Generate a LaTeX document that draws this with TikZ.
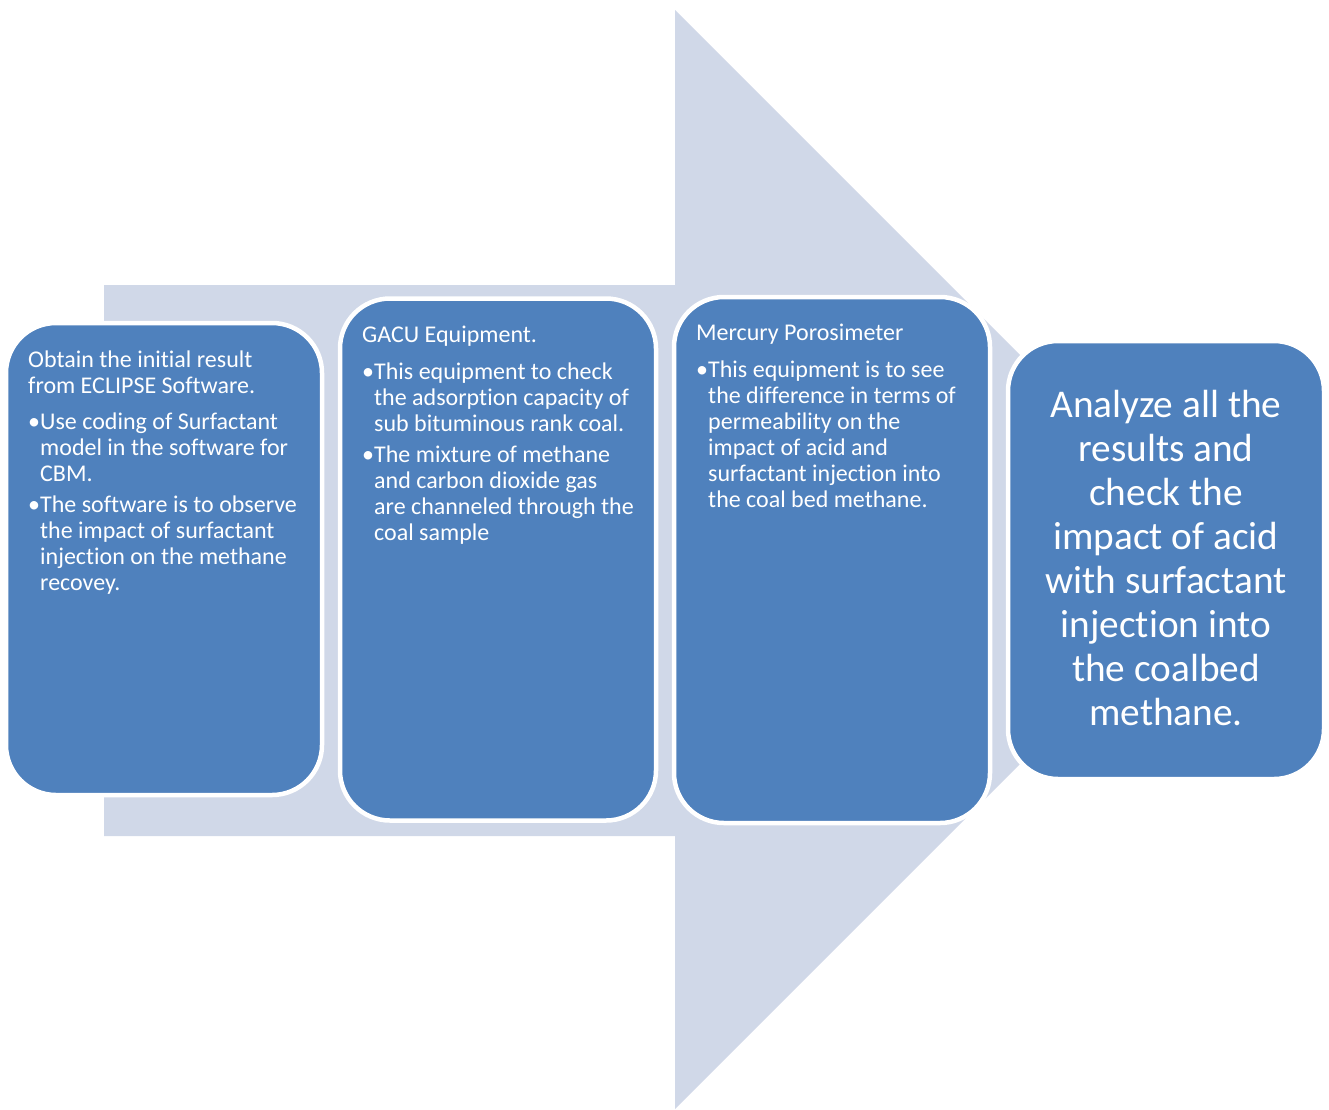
\documentclass[tikz,border=0pt]{standalone}
\usepackage{fontspec}
\setmainfont{Carlito}[Ligatures={NoCommon,NoRare,NoContextual}]
\definecolor{boxblue}{HTML}{4F81BD}
\definecolor{arrowtint}{HTML}{D0D8E8}
% bullet paragraph with hanging indent; lines inside are broken with \newline
\newcommand{\bulletpara}[1]{\hangindent=12pt\hangafter=1\noindent\makebox[12pt][l]{•}#1\par}
\tikzset{
  stage/.style={draw=white, line width=4.5pt, fill=boxblue, rounded corners=50pt,
                inner sep=0pt, minimum width=316pt},
  body/.style={text=white, inner sep=0pt, anchor=base west},
  summary/.style={text=white, inner sep=0pt, anchor=base},
}
\begin{document}
\begin{tikzpicture}[x=1pt,y=-1pt]
\useasboundingbox (0,0) rectangle (1329,1109);

% background block arrow
\fill[arrowtint] (104,285) -- (675,285) -- (675,10) -- (1224.5,559.5)
  -- (675,1109) -- (675,836) -- (104,836) -- cycle;

% stage boxes
\node[stage, minimum height=472pt] (b1) at (164,559) {};
\node[stage, minimum height=522pt] (b2) at (498,559.5) {};
\node[stage, minimum height=526pt] (b3) at (832,560) {};
\node[stage, minimum height=438pt] (b4) at (1166,560) {};

% stage texts
\node[body] (t1) at (28,367) {\parbox[t]{300pt}{\fontsize{24}{26}\selectfont\raggedright
  Obtain the initial result\newline from ECLIPSE Software.\par\vspace{10.5pt}
  \bulletpara{Use coding of Surfactant\newline model in the software for\newline CBM.}\vspace{5pt}
  \bulletpara{The software is to observe\newline the impact of surfactant\newline injection on the methane\newline recovey.}}};

\node[body] (t2) at (362,342) {\parbox[t]{300pt}{\fontsize{24}{26}\selectfont\raggedright
  GACU Equipment.\par\vspace{11pt}
  \bulletpara{This equipment to check\newline the adsorption capacity of\newline sub bituminous rank coal.}\vspace{5pt}
  \bulletpara{The mixture of methane\newline and carbon dioxide gas\newline are channeled through the\newline coal sample}}};

\node[body] (t3) at (696,340) {\parbox[t]{300pt}{\fontsize{24}{26}\selectfont\raggedright
  Mercury Porosimeter\par\vspace{11pt}
  \bulletpara{This equipment is to see\newline the difference in terms of\newline permeability on the\newline impact of acid and\newline surfactant injection into\newline the coal bed methane.}}};

\node[summary] (t4) at (1166,417) {\parbox[t]{316pt}{\fontsize{39.3}{44}\selectfont\centering
  Analyze all the\\ results and\\ check the\\ impact of acid\\ with surfactant\\ injection into\\ the coalbed\\ methane.}};
\end{tikzpicture}
\end{document}
